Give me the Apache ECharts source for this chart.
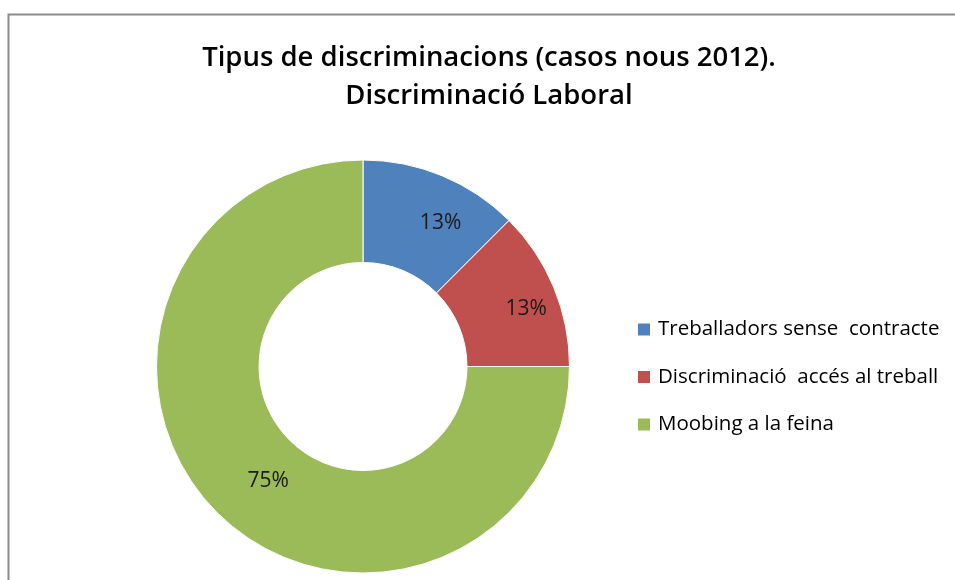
<!DOCTYPE html>
<html>
<head>
<meta charset="utf-8">
<script src="https://cdn.jsdelivr.net/npm/echarts@6/dist/echarts.min.js"></script>
<style>
html,body{margin:0;padding:0;background:#fff;}
#chart{width:955px;height:580px;}
</style>
</head>
<body>
<div id="chart"></div>
<script>
var titleLines = ['Tipus de discriminacions (casos nous 2012).', 'Discriminació Laboral'];
var categories = ['Treballadors sense  contracte', 'Discriminació  accés al treball', 'Moobing a la feina'];
var values = [1, 1, 6];
var colors = ['#4F81BD', '#C0504D', '#9BBB59'];

var total = values.reduce(function (a, b) { return a + b; }, 0);
var chart = echarts.init(document.getElementById('chart'));
var font = 'Open Sans';
chart.setOption({
  backgroundColor: '#fff',
  animation: false,
  graphic: [{
    type: 'rect',
    shape: { x: 8.5, y: 14.5, width: 1000, height: 700 },
    style: { fill: 'none', stroke: '#8c8c8c', lineWidth: 2 },
    silent: true
  }],
  title: {
    text: titleLines.join('\n'),
    left: 489,
    textAlign: 'center',
    top: 39,
    padding: 0,
    textStyle: { fontFamily: font, fontSize: 27.5, fontWeight: 600, color: '#000', lineHeight: 38 }
  },
  legend: {
    orient: 'vertical',
    left: 636,
    top: 319,
    padding: 0,
    itemWidth: 14,
    itemHeight: 14,
    itemGap: 26.5,
    icon: 'rect',
    textStyle: { fontFamily: font, fontSize: 20.5, color: '#000', padding: [0, 0, 0, 2] },
    data: categories
  },
  series: [{
    type: 'pie',
    center: [363, 366.5],
    radius: [104, 206.5],
    startAngle: 90,
    clockwise: true,
    color: colors,
    itemStyle: { borderColor: '#fff', borderWidth: 1 },
    label: {
      position: 'inside',
      fontFamily: font,
      fontSize: 21,
      color: '#1a1a1a',
      offset: [17, 3],
      formatter: function (p) { return Math.round(p.value / total * 100) + '%'; }
    },
    labelLine: { show: false },
    data: categories.map(function (c, i) { return { name: c, value: values[i] }; })
  }]
});
</script>
</body>
</html>
